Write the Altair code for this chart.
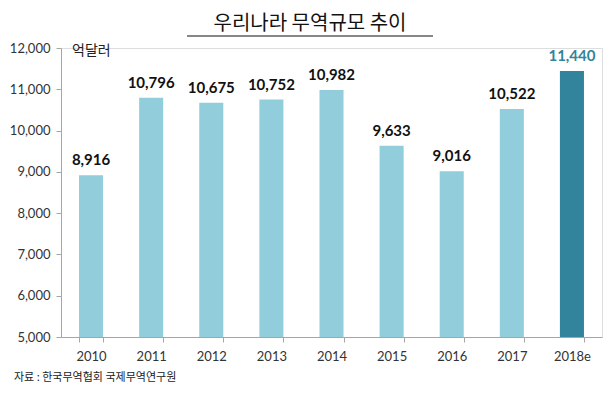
import altair as alt
import pandas as pd

years = ["2010", "2011", "2012", "2013", "2014", "2015", "2016", "2017", "2018e"]
values = [8916, 10796, 10675, 10752, 10982, 9633, 9016, 10522, 11440]
estimate = [False, False, False, False, False, False, False, False, True]
y_ticks = [5000, 6000, 7000, 8000, 9000, 10000, 11000, 12000]

title_text = "우리나라 무역규모 추이"
unit_text = "억달러"
source_text = "자료 : 한국무역협회 국제무역연구원"

df = pd.DataFrame({
    "year": years,
    "value": values,
    "label": [f"{v:,}" for v in values],
    "est": estimate,
    "base": [5000] * len(years),
})

W, H = 541, 289
LIGHT = "#92CDDC"
DARK = "#31849B"
KFONT = "Noto Sans CJK KR"
NFONT = "Lato"

xenc = alt.X(
    "year:N", sort=years,
    scale=alt.Scale(paddingInner=0.6, paddingOuter=0.3),
    axis=alt.Axis(title=None, labelAngle=0, tickBand="extent", labelFont=NFONT,
                  labelFontSize=13, labelColor="#333333", labelPadding=8,
                  domainColor="#A6A6A6", tickColor="#A6A6A6", tickSize=5),
)
yscale = alt.Scale(domain=[5000, 12000], nice=False, zero=False)

base = alt.Chart(df)

bars = base.mark_bar().encode(
    x=xenc,
    y=alt.Y("value:Q", scale=yscale,
            axis=alt.Axis(title=None, values=y_ticks, format=",.0f", grid=False,
                          labelFont=NFONT, labelFontSize=13, labelColor="#333333",
                          labelPadding=6, domainColor="#A6A6A6", tickColor="#A6A6A6",
                          tickSize=5)),
    y2="base:Q",
    color=alt.condition(alt.datum.est, alt.value(DARK), alt.value(LIGHT)),
)

texts = base.mark_text(font=NFONT, fontSize=15, fontWeight="bold", baseline="bottom", dy=-7).encode(
    x=alt.X("year:N", sort=years),
    y=alt.Y("value:Q", scale=yscale),
    text="label:N",
    color=alt.condition(alt.datum.est, alt.value(DARK), alt.value("#111111")),
)

deco = pd.DataFrame({"t": [title_text]})
title = alt.Chart(deco).mark_text(font=KFONT, fontSize=20, color="#111111", align="center",
                                  baseline="middle").encode(
    x=alt.value(249), y=alt.value(-24), text="t:N")
underline = alt.Chart(deco).mark_rule(color="#111111", strokeWidth=1.2).encode(
    x=alt.value(126), x2=alt.value(372), y=alt.value(-12))

unit = alt.Chart(pd.DataFrame({"t": [unit_text]})).mark_text(
    font=KFONT, fontSize=14, color="#222222", align="left", baseline="middle").encode(
    x=alt.value(11), y=alt.value(3), text="t:N")

source = alt.Chart(pd.DataFrame({"t": [source_text]})).mark_text(
    font=KFONT, fontSize=11, color="#222222", align="left", baseline="middle").encode(
    x=alt.value(-47), y=alt.value(330), text="t:N")

chart = alt.layer(bars, texts, title, underline, unit, source).properties(
    width=W, height=H,
    autosize=alt.AutoSizeParams(type="none"),
    padding={"left": 53, "top": 40, "right": 2, "bottom": 51},
).configure_view(stroke=None).configure(background="white")

chart.save("out.html", embed_options={"renderer": "svg", "actions": False})
